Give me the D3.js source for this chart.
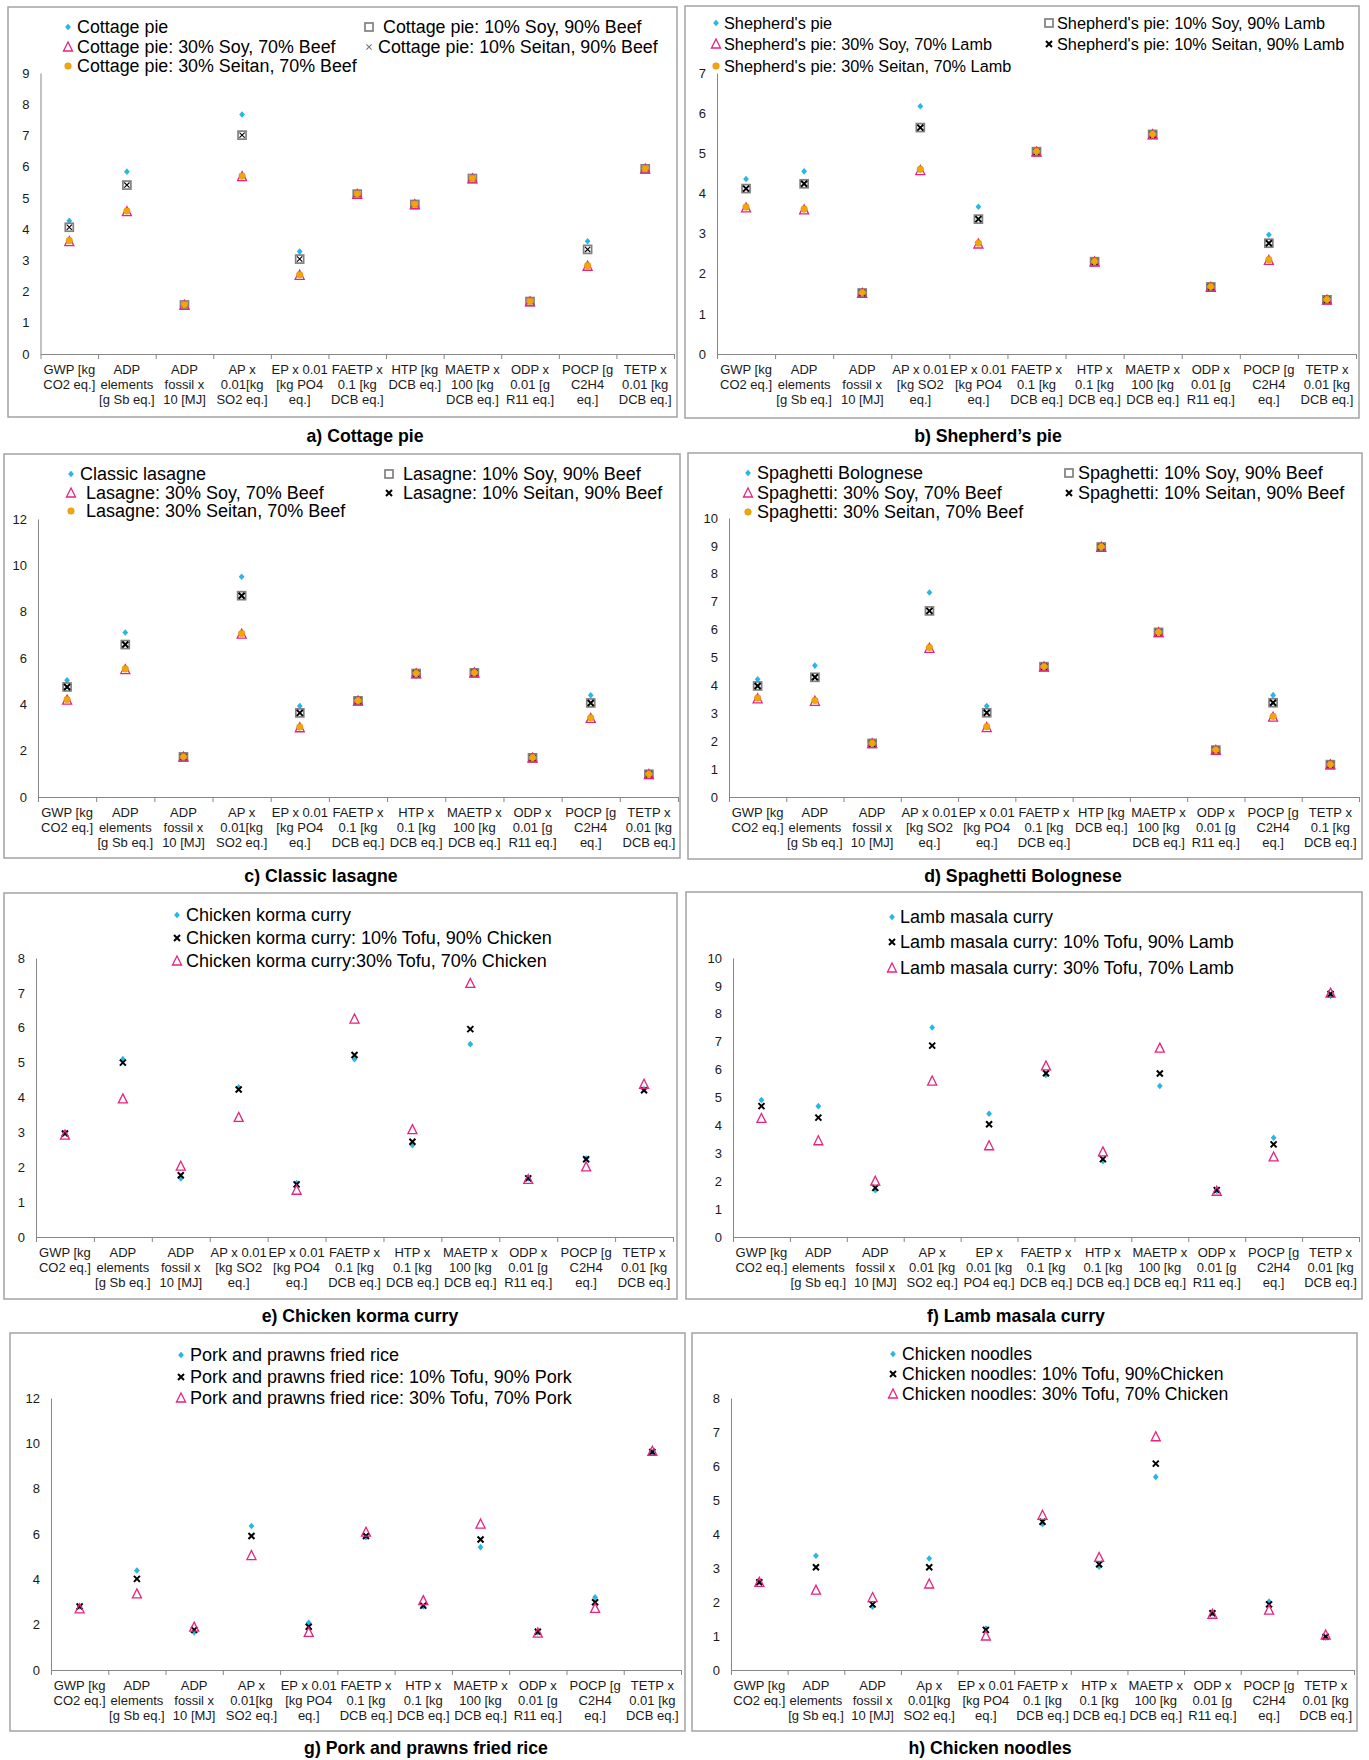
<!DOCTYPE html>
<html>
<head>
<meta charset="utf-8">
<script src="https://cdn.jsdelivr.net/npm/d3@7"></script>
<style>
  body { margin: 0; background: #fff; }
  svg { display: block; font-family: Arial, "Liberation Sans", sans-serif; }
</style>
</head>
<body>
<svg id="chart" width="1369" height="1760"></svg>
<script>
// Category labels (lines split by "|")
const catsA = ["GWP [kg|CO2 eq.]", "ADP|elements|[g Sb eq.]", "ADP|fossil x|10 [MJ]", "AP x|0.01[kg|SO2 eq.]", "EP x 0.01|[kg PO4|eq.]", "FAETP x|0.1 [kg|DCB eq.]", "HTP [kg|DCB eq.]", "MAETP x|100 [kg|DCB eq.]", "ODP x|0.01 [g|R11 eq.]", "POCP [g|C2H4|eq.]", "TETP x|0.01 [kg|DCB eq.]"];
const catsB = ["GWP [kg|CO2 eq.]", "ADP|elements|[g Sb eq.]", "ADP|fossil x|10 [MJ]", "AP x 0.01|[kg SO2|eq.]", "EP x 0.01|[kg PO4|eq.]", "FAETP x|0.1 [kg|DCB eq.]", "HTP x|0.1 [kg|DCB eq.]", "MAETP x|100 [kg|DCB eq.]", "ODP x|0.01 [g|R11 eq.]", "POCP [g|C2H4|eq.]", "TETP x|0.01 [kg|DCB eq.]"];
const catsC = ["GWP [kg|CO2 eq.]", "ADP|elements|[g Sb eq.]", "ADP|fossil x|10 [MJ]", "AP x|0.01[kg|SO2 eq.]", "EP x 0.01|[kg PO4|eq.]", "FAETP x|0.1 [kg|DCB eq.]", "HTP x|0.1 [kg|DCB eq.]", "MAETP x|100 [kg|DCB eq.]", "ODP x|0.01 [g|R11 eq.]", "POCP [g|C2H4|eq.]", "TETP x|0.01 [kg|DCB eq.]"];
const catsD = ["GWP [kg|CO2 eq.]", "ADP|elements|[g Sb eq.]", "ADP|fossil x|10 [MJ]", "AP x 0.01|[kg SO2|eq.]", "EP x 0.01|[kg PO4|eq.]", "FAETP x|0.1 [kg|DCB eq.]", "HTP [kg|DCB eq.]", "MAETP x|100 [kg|DCB eq.]", "ODP x|0.01 [g|R11 eq.]", "POCP [g|C2H4|eq.]", "TETP x|0.1 [kg|DCB eq.]"];
const catsE = ["GWP [kg|CO2 eq.]", "ADP|elements|[g Sb eq.]", "ADP|fossil x|10 [MJ]", "AP x 0.01|[kg SO2|eq.]", "EP x 0.01|[kg PO4|eq.]", "FAETP x|0.1 [kg|DCB eq.]", "HTP x|0.1 [kg|DCB eq.]", "MAETP x|100 [kg|DCB eq.]", "ODP x|0.01 [g|R11 eq.]", "POCP [g|C2H4|eq.]", "TETP x|0.01 [kg|DCB eq.]"];
const catsF = ["GWP [kg|CO2 eq.]", "ADP|elements|[g Sb eq.]", "ADP|fossil x|10 [MJ]", "AP x|0.01 [kg|SO2 eq.]", "EP x|0.01 [kg|PO4 eq.]", "FAETP x|0.1 [kg|DCB eq.]", "HTP x|0.1 [kg|DCB eq.]", "MAETP x|100 [kg|DCB eq.]", "ODP x|0.01 [g|R11 eq.]", "POCP [g|C2H4|eq.]", "TETP x|0.01 [kg|DCB eq.]"];
const catsG = ["GWP [kg|CO2 eq.]", "ADP|elements|[g Sb eq.]", "ADP|fossil x|10 [MJ]", "AP x|0.01[kg|SO2 eq.]", "EP x 0.01|[kg PO4|eq.]", "FAETP x|0.1 [kg|DCB eq.]", "HTP x|0.1 [kg|DCB eq.]", "MAETP x|100 [kg|DCB eq.]", "ODP x|0.01 [g|R11 eq.]", "POCP [g|C2H4|eq.]", "TETP x|0.01 [kg|DCB eq.]"];
const catsH = ["GWP [kg|CO2 eq.]", "ADP|elements|[g Sb eq.]", "ADP|fossil x|10 [MJ]", "Ap x|0.01[kg|SO2 eq.]", "EP x 0.01|[kg PO4|eq.]", "FAETP x|0.1 [kg|DCB eq.]", "HTP x|0.1 [kg|DCB eq.]", "MAETP x|100 [kg|DCB eq.]", "ODP x|0.01 [g|R11 eq.]", "POCP [g|C2H4|eq.]", "TETP x|0.01 [kg|DCB eq.]"];

// a) Cottage pie
const cottage         = [4.27, 5.84, 1.58, 7.67, 3.28, 5.12, 4.79, 5.62, 1.68, 3.61, 5.93];
const cottageSoy10    = [4.06, 5.41, 1.57, 7.01, 3.04, 5.12, 4.79, 5.62, 1.68, 3.35, 5.93];
const cottageSeitan10 = [4.06, 5.41, 1.57, 7.01, 3.04, 5.12, 4.79, 5.62, 1.68, 3.35, 5.93];
const cottageSoy30    = [3.60, 4.56, 1.56, 5.68, 2.52, 5.11, 4.78, 5.61, 1.67, 2.81, 5.92];
const cottageSeitan30 = [3.63, 4.58, 1.58, 5.70, 2.54, 5.13, 4.80, 5.63, 1.69, 2.83, 5.94];
// b) Shepherd's pie
const shepherd         = [4.36, 4.55, 1.52, 6.17, 3.67, 5.04, 2.30, 5.47, 1.67, 2.97, 1.35];
const shepherdSoy10    = [4.12, 4.24, 1.52, 5.64, 3.36, 5.04, 2.30, 5.47, 1.67, 2.76, 1.35];
const shepherdSeitan10 = [4.12, 4.24, 1.52, 5.64, 3.36, 5.04, 2.30, 5.47, 1.67, 2.76, 1.35];
const shepherdSoy30    = [3.64, 3.59, 1.51, 4.57, 2.74, 5.03, 2.29, 5.46, 1.66, 2.33, 1.34];
const shepherdSeitan30 = [3.66, 3.61, 1.53, 4.60, 2.76, 5.05, 2.31, 5.48, 1.68, 2.35, 1.36];
// c) Classic lasagne
const lasagne         = [5.04, 7.10, 1.73, 9.51, 3.93, 4.15, 5.33, 5.36, 1.69, 4.39, 0.98];
const lasagneSoy10    = [4.75, 6.58, 1.73, 8.69, 3.63, 4.15, 5.33, 5.36, 1.69, 4.06, 0.98];
const lasagneSeitan10 = [4.75, 6.58, 1.73, 8.69, 3.63, 4.15, 5.33, 5.36, 1.69, 4.06, 0.98];
const lasagneSoy30    = [4.18, 5.50, 1.72, 7.03, 2.99, 4.14, 5.32, 5.35, 1.68, 3.39, 0.97];
const lasagneSeitan30 = [4.21, 5.53, 1.74, 7.06, 3.02, 4.16, 5.34, 5.37, 1.70, 3.42, 0.99];
// d) Spaghetti Bolognese
const spaghetti         = [4.22, 4.71, 1.92, 7.33, 3.26, 4.67, 8.96, 5.90, 1.68, 3.65, 1.16];
const spaghettiSoy10    = [3.98, 4.29, 1.92, 6.67, 3.02, 4.67, 8.96, 5.90, 1.68, 3.38, 1.16];
const spaghettiSeitan10 = [3.98, 4.29, 1.92, 6.67, 3.02, 4.67, 8.96, 5.90, 1.68, 3.38, 1.16];
const spaghettiSoy30    = [3.52, 3.43, 1.91, 5.33, 2.49, 4.66, 8.95, 5.89, 1.67, 2.86, 1.15];
const spaghettiSeitan30 = [3.55, 3.46, 1.93, 5.36, 2.52, 4.68, 8.97, 5.91, 1.69, 2.89, 1.17];
// e) Chicken korma curry
const korma       = [2.99, 5.10, 1.68, 4.29, 1.55, 5.10, 2.63, 5.53, 1.68, 2.25, 4.24];
const kormaTofu10 = [2.97, 5.00, 1.77, 4.23, 1.51, 5.22, 2.73, 5.96, 1.68, 2.23, 4.21];
const kormaTofu30 = [2.92, 3.96, 2.03, 3.43, 1.34, 6.25, 3.08, 7.27, 1.65, 2.01, 4.38];
// f) Lamb masala curry
const masala       = [4.91, 4.69, 1.68, 7.51, 4.42, 5.81, 2.72, 5.41, 1.65, 3.56, 8.65];
const masalaTofu10 = [4.69, 4.28, 1.76, 6.86, 4.04, 5.87, 2.79, 5.86, 1.68, 3.32, 8.71];
const masalaTofu30 = [4.25, 3.45, 2.00, 5.59, 3.27, 6.13, 3.05, 6.77, 1.64, 2.87, 8.74];
// g) Pork and prawns fried rice
const friedRice       = [2.80, 4.39, 1.66, 6.35, 2.08, 5.86, 2.80, 5.42, 1.66, 3.21, 9.62];
const friedRiceTofu10 = [2.80, 4.02, 1.77, 5.91, 1.91, 5.91, 2.84, 5.76, 1.69, 2.99, 9.62];
const friedRiceTofu30 = [2.70, 3.36, 1.89, 5.05, 1.66, 6.08, 3.06, 6.44, 1.63, 2.72, 9.65];
// h) Chicken noodles
const noodles       = [2.60, 3.36, 1.86, 3.28, 1.22, 4.29, 3.04, 5.68, 1.67, 2.01, 0.95];
const noodlesTofu10 = [2.58, 3.02, 1.93, 3.02, 1.18, 4.36, 3.11, 6.07, 1.67, 1.93, 0.98];
const noodlesTofu30 = [2.58, 2.35, 2.13, 2.53, 1.00, 4.55, 3.31, 6.86, 1.64, 1.76, 1.03];

const CYAN = "#29b6e6", PINK = "#e8237f", ORANGE = "#f2a50c", GREY = "#808080";

// Panel layout: box, plot area, axis max/step, title and legend spots
const panels = [
  { title: "a) Cottage pie", titleX: 365, titleY: 442, box: [8, 7, 677, 417], legendSize: 17.85,
    x0: 40.5, x1: 674, y0: 354, yTop: 73, max: 9, step: 1, cats: catsA, thinX: true,
    series: [
      { name: "Cottage pie", values: cottage, m: "diamond", lg: [68, 77, 27] },
      { name: "Cottage pie: 10% Soy, 90% Beef", values: cottageSoy10, m: "square", lg: [369, 383, 27] },
      { name: "Cottage pie: 10% Seitan, 90% Beef", values: cottageSeitan10, m: "cross", lg: [369, 378, 47] },
      { name: "Cottage pie: 30% Soy, 70% Beef", values: cottageSoy30, m: "triangle", lg: [68, 77, 47] },
      { name: "Cottage pie: 30% Seitan, 70% Beef", values: cottageSeitan30, m: "circle", lg: [68, 77, 66] }
    ] },
  { title: "b) Shepherd\u2019s pie", titleX: 988, titleY: 442, box: [685, 6, 1359, 418], legendSize: 16.3,
    x0: 717, x1: 1356, y0: 354, yTop: 73, max: 7, step: 1, cats: catsB,
    series: [
      { name: "Shepherd's pie", values: shepherd, m: "diamond", lg: [716, 724, 23] },
      { name: "Shepherd's pie: 10% Soy, 90% Lamb", values: shepherdSoy10, m: "square", lg: [1049, 1057, 23] },
      { name: "Shepherd's pie: 10% Seitan, 90% Lamb", values: shepherdSeitan10, m: "cross", lg: [1049, 1057, 44] },
      { name: "Shepherd's pie: 30% Soy, 70% Lamb", values: shepherdSoy30, m: "triangle", lg: [716, 724, 44] },
      { name: "Shepherd's pie: 30% Seitan, 70% Lamb", values: shepherdSeitan30, m: "circle", lg: [716, 724, 66] }
    ] },
  { title: "c) Classic lasagne", titleX: 321, titleY: 882, box: [4, 454, 680, 858], legendSize: 18,
    x0: 38, x1: 678, y0: 797, yTop: 519, max: 12, step: 2, cats: catsC,
    series: [
      { name: "Classic lasagne", values: lasagne, m: "diamond", lg: [71, 80, 474] },
      { name: "Lasagne: 10% Soy, 90% Beef", values: lasagneSoy10, m: "square", lg: [389, 403, 474] },
      { name: "Lasagne: 10% Seitan, 90% Beef", values: lasagneSeitan10, m: "cross", lg: [389, 403, 493] },
      { name: "Lasagne: 30% Soy, 70% Beef", values: lasagneSoy30, m: "triangle", lg: [71, 86, 493] },
      { name: "Lasagne: 30% Seitan, 70% Beef", values: lasagneSeitan30, m: "circle", lg: [71, 86, 511] }
    ] },
  { title: "d) Spaghetti Bolognese", titleX: 1023, titleY: 882, box: [688, 453, 1362, 859], legendSize: 18,
    x0: 729, x1: 1359, y0: 797, yTop: 518, max: 10, step: 1, cats: catsD,
    series: [
      { name: "Spaghetti Bolognese", values: spaghetti, m: "diamond", lg: [748, 757, 473] },
      { name: "Spaghetti: 10% Soy, 90% Beef", values: spaghettiSoy10, m: "square", lg: [1069, 1078, 473] },
      { name: "Spaghetti: 10% Seitan, 90% Beef", values: spaghettiSeitan10, m: "cross", lg: [1069, 1078, 493] },
      { name: "Spaghetti: 30% Soy, 70% Beef", values: spaghettiSoy30, m: "triangle", lg: [748, 757, 493] },
      { name: "Spaghetti: 30% Seitan, 70% Beef", values: spaghettiSeitan30, m: "circle", lg: [748, 757, 512] }
    ] },
  { title: "e) Chicken korma curry", titleX: 360, titleY: 1322, box: [4, 893, 677, 1299], legendSize: 18,
    x0: 36, x1: 673, y0: 1237, yTop: 958, max: 8, step: 1, cats: catsE,
    series: [
      { name: "Chicken korma curry", values: korma, m: "diamond", lg: [177, 186, 915] },
      { name: "Chicken korma curry: 10% Tofu, 90% Chicken", values: kormaTofu10, m: "cross", lg: [177, 186, 938] },
      { name: "Chicken korma curry:30% Tofu, 70% Chicken", values: kormaTofu30, m: "triangle", lg: [177, 186, 961] }
    ] },
  { title: "f) Lamb masala curry", titleX: 1016, titleY: 1322, box: [686, 892, 1362, 1299], legendSize: 18,
    x0: 733, x1: 1359, y0: 1237, yTop: 958, max: 10, step: 1, cats: catsF,
    series: [
      { name: "Lamb masala curry", values: masala, m: "diamond", lg: [892, 900, 917] },
      { name: "Lamb masala curry: 10% Tofu, 90% Lamb", values: masalaTofu10, m: "cross", lg: [892, 900, 942] },
      { name: "Lamb masala curry: 30% Tofu, 70% Lamb", values: masalaTofu30, m: "triangle", lg: [892, 900, 968] }
    ] },
  { title: "g) Pork and prawns fried rice", titleX: 426, titleY: 1754, box: [10, 1333, 685, 1731], legendSize: 18,
    x0: 51, x1: 681, y0: 1670, yTop: 1398, max: 12, step: 2, cats: catsG,
    series: [
      { name: "Pork and prawns fried rice", values: friedRice, m: "diamond", lg: [181, 190, 1355] },
      { name: "Pork and prawns fried rice: 10% Tofu, 90% Pork", values: friedRiceTofu10, m: "cross", lg: [181, 190, 1377] },
      { name: "Pork and prawns fried rice: 30% Tofu, 70% Pork", values: friedRiceTofu30, m: "triangle", lg: [181, 190, 1398] }
    ] },
  { title: "h) Chicken noodles", titleX: 990, titleY: 1754, box: [692, 1333, 1357, 1731], legendSize: 17.6,
    x0: 731, x1: 1354, y0: 1670, yTop: 1398, max: 8, step: 1, cats: catsH,
    series: [
      { name: "Chicken noodles", values: noodles, m: "diamond", lg: [893, 902, 1354] },
      { name: "Chicken noodles: 10% Tofu, 90%Chicken", values: noodlesTofu10, m: "cross", lg: [893, 902, 1374] },
      { name: "Chicken noodles: 30% Tofu, 70% Chicken", values: noodlesTofu30, m: "triangle", lg: [893, 902, 1394] }
    ] }
];

const svg = d3.select("#chart");
svg.append("rect").attr("width", 1369).attr("height", 1760).attr("fill", "#fff");

panels.forEach(drawPanel);

/**
 * Draws one marker of the given kind at (x, y).
 */
function marker (g, kind, x, y, thin, legend) {
  const t = g.append("g").attr("transform", `translate(${x},${y})`);
  if (kind === "diamond") {
    t.append("path").attr("d", "M0,-3.3L2.9,0L0,3.3L-2.9,0Z").attr("fill", CYAN);
  } else if (kind === "square") {
    t.append("rect").attr("x", -4).attr("y", -4).attr("width", 8).attr("height", 8)
      .attr("fill", legend ? "#fff" : "none").attr("stroke", GREY).attr("stroke-width", 1.7);
  } else if (kind === "cross") {
    const s = thin ? 2.6 : 3;
    t.append("path").attr("d", `M${-s},${-s}L${s},${s}M${s},${-s}L${-s},${s}`)
      .attr("stroke", thin && legend ? "#777" : "#000").attr("stroke-width", thin ? 1.1 : 2)
      .attr("fill", "none");
  } else if (kind === "triangle") {
    t.append("path").attr("d", "M0,-5L4.5,4L-4.5,4Z")
      .attr("fill", "none").attr("stroke", PINK).attr("stroke-width", 1.3);
  } else if (kind === "circle") {
    t.append("circle").attr("r", 3.3).attr("fill", ORANGE).attr("stroke", "#d98d00").attr("stroke-width", 0.5);
  }
}

/**
 * Draws a single scatter panel with its box, axes, points, legend and caption.
 */
function drawPanel (p) {
  const g = svg.append("g");
  const [bx0, by0, bx1, by1] = p.box;

  g.append("rect").attr("x", bx0).attr("y", by0).attr("width", bx1 - bx0).attr("height", by1 - by0)
    .attr("fill", "none").attr("stroke", "#a3a3a3").attr("stroke-width", 1.5);

  const idx = d3.range(p.cats.length);
  const xScale = d3.scaleBand().domain(idx).range([p.x0, p.x1]);
  const edgeScale = d3.scaleLinear().domain([0, p.cats.length]).range([p.x0, p.x1]);
  const yScale = d3.scaleLinear().domain([0, p.max]).range([p.y0, p.yTop]);

  // x axis: line with ticks at category boundaries
  const xAxis = g.append("g").attr("transform", `translate(0,${p.y0})`)
    .call(d3.axisBottom(edgeScale).tickValues(d3.range(p.cats.length + 1)).tickSize(5).tickSizeOuter(0).tickFormat(""));
  xAxis.selectAll("path, line").attr("stroke", "#878787").attr("stroke-width", 1);

  // y axis: line and labels only
  const yAxis = g.append("g").attr("transform", `translate(${p.x0},0)`)
    .call(d3.axisLeft(yScale).tickValues(d3.range(0, p.max + p.step / 2, p.step))
      .tickFormat(d3.format("d")).tickSize(0).tickPadding(11));
  yAxis.select(".domain").attr("stroke", "#878787").attr("stroke-width", 1);
  yAxis.selectAll("text").attr("font-size", 13).attr("fill", "#1a1a1a").attr("font-family", "Arial, 'Liberation Sans', sans-serif");

  // category labels
  const lab = g.append("g").selectAll("text").data(p.cats).join("text")
    .attr("text-anchor", "middle").attr("font-size", 13).attr("fill", "#1a1a1a")
    .attr("x", (d, i) => xScale(i) + xScale.bandwidth() / 2)
    .attr("y", p.y0 + 19.7);
  lab.each(function (d, i) {
    const el = d3.select(this);
    d.split("|").forEach((line, k) => {
      el.append("tspan").attr("x", xScale(i) + xScale.bandwidth() / 2).attr("dy", k === 0 ? 0 : 15.2).text(line);
    });
  });

  // points
  p.series.forEach((s) => {
    const pg = g.append("g");
    s.values.forEach((v, i) => {
      marker(pg, s.m, xScale(i) + xScale.bandwidth() / 2, yScale(v), p.thinX, false);
    });
  });

  // legend
  p.series.forEach((s) => {
    const [mx, tx, ly] = s.lg;
    marker(g, s.m, mx, ly, p.thinX, true);
    g.append("text").attr("x", tx).attr("y", ly + p.legendSize * 0.36).attr("font-size", p.legendSize)
      .attr("fill", "#000").text(s.name);
  });

  // caption
  g.append("text").attr("x", p.titleX).attr("y", p.titleY).attr("text-anchor", "middle")
    .attr("font-size", 17.7).attr("font-weight", "bold").attr("fill", "#000").text(p.title);
}
</script>
</body>
</html>
